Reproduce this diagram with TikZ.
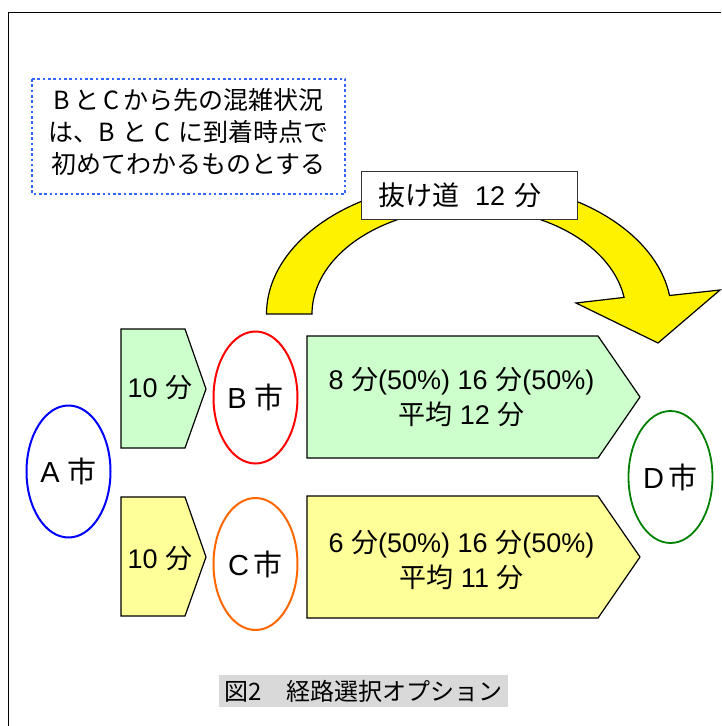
\documentclass[tikz,border=0pt]{standalone}
\usepackage{fontspec}
\setmainfont{Liberation Sans}
\newfontfamily\J{Noto Sans CJK JP}
\usetikzlibrary{shapes.geometric}
\definecolor{lgreen}{HTML}{CCFFCC}
\definecolor{lyellow}{HTML}{FFFF99}
\definecolor{dotblue}{HTML}{3366FF}
\definecolor{orng}{HTML}{FF6600}
\definecolor{dgreen}{HTML}{008000}
\definecolor{capgray}{HTML}{D9D9D9}
\begin{document}
\begin{tikzpicture}[x=1pt,y=-1pt,
  city/.style={ellipse, draw, line width=2pt, minimum width=84pt, minimum height=132pt, inner sep=0pt, font=\fontsize{29}{32}\selectfont},
  chev/.style={draw=black, line width=1.2pt},
  lbl/.style={inner sep=0pt, align=center, font=\fontsize{27}{35}\selectfont},
]
\useasboundingbox (0,0) rectangle (721,726);
% frame
\draw[line width=1.3pt] (8.5,726) -- (8.5,12.5) -- (721,12.5);
% note box
\draw[dotblue, line width=2.6pt, dash pattern=on 2.6pt off 2.7pt] (32,79) rectangle (345,194);
\node[inner sep=0pt, align=center, font=\J\fontsize{25}{32}\selectfont] (note) at (188.5,132)
  {B\,と\,C\,から先の混雑状況\\は、B\hspace{0.3em}と\hspace{0.3em}C\hspace{0.3em}に到着時点で\\初めてわかるものとする};
% curved arrow
\draw[fill=yellow, line width=1.2pt, line join=miter]
  plot[domain=180:8, samples=80, variable=\t] ({469+202.5*cos(\t)},{314-133*sin(\t)})
  -- (720,290) -- (658,343) -- (576,303)
  -- plot[domain=9:180, samples=80, variable=\t] ({469+157*cos(\t)},{314-106*sin(\t)})
  -- cycle;
\node[draw=black!80, fill=white, line width=1pt, minimum width=216pt, minimum height=48pt,
  text width=182pt, align=left, inner sep=0pt, font=\fontsize{27}{30}\selectfont] (bypass) at (469,195)
  {{\J 抜け道}\hspace{0.6em}12 {\J 分}};
% chevrons
\draw[chev, fill=lgreen] (121,329) -- (185,329) -- (206,389) -- (185,448) -- (121,448) -- cycle;
\node[lbl] (ab) at (160,388) {10 {\J 分}};
\draw[chev, fill=lyellow] (121,497) -- (185,497) -- (206,557) -- (185,616) -- (121,616) -- cycle;
\node[lbl] (ac) at (160,559) {10 {\J 分}};
\draw[chev, fill=lgreen] (307,336) -- (598,336) -- (640,397) -- (598,458) -- (307,458) -- cycle;
\node[lbl] (bd) at (461.5,397.5) {8 {\J 分}(50\%) 16 {\J 分}(50\%)\\{\J 平均} 12 {\J 分}};
\draw[chev, fill=lyellow] (307,496) -- (598,496) -- (640,557) -- (598,618) -- (307,618) -- cycle;
\node[lbl] (cd) at (461.5,560.5) {6 {\J 分}(50\%) 16 {\J 分}(50\%)\\{\J 平均} 11 {\J 分}};
% cities
\node[city, draw=blue] (A) at (68.5,471.5) {A {\J 市}};
\node[city, draw=red] (B) at (255.5,397.5) {B {\J 市}};
\node[city, draw=orng] (C) at (255.5,564) {C\,{\J 市}};
\node[city, draw=dgreen, line width=1.8pt] (D) at (670.5,477) {D\,{\J 市}};
% caption
\node[fill=capgray, minimum width=289pt, minimum height=32pt, inner sep=0pt,
  font=\J\fontsize{24}{28}\selectfont] (cap) at (363.5,691) {図2　経路選択オプション};
\end{tikzpicture}
\end{document}
